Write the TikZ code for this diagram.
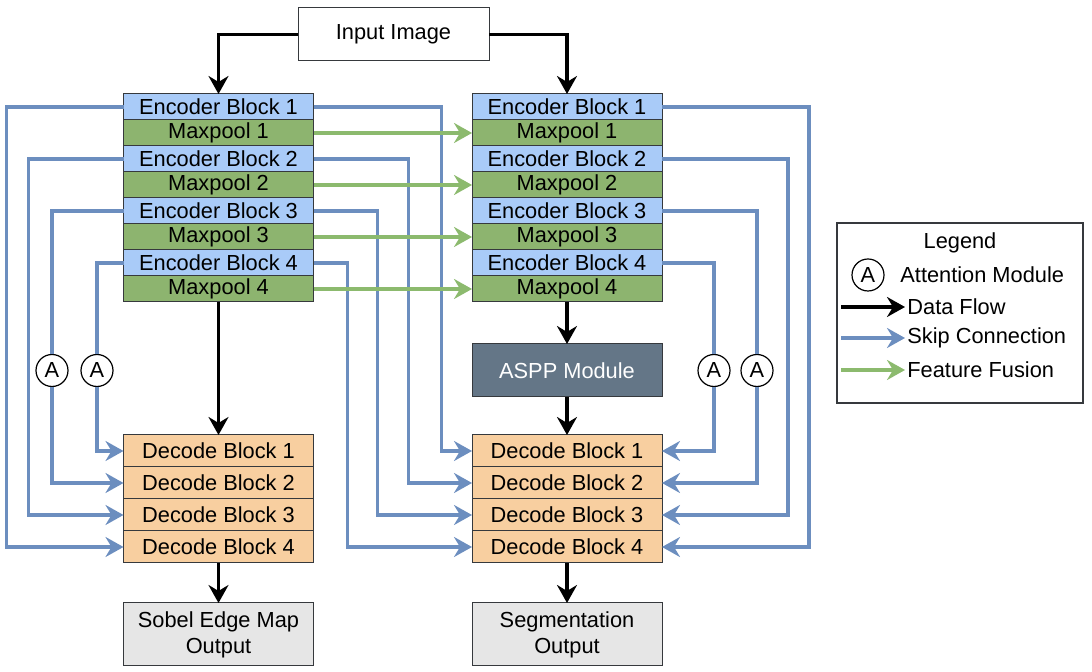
\documentclass[tikz,border=0pt]{standalone}
\usepackage{fontspec}
\setmainfont{Liberation Sans}
\usetikzlibrary{positioning,arrows.meta}
\definecolor{encblue}{HTML}{A9CBF8}
\definecolor{poolgreen}{HTML}{8DB46F}
\definecolor{decorange}{HTML}{F8CFA0}
\definecolor{asppgray}{HTML}{647687}
\definecolor{outgray}{HTML}{E6E6E6}
\definecolor{skipblue}{HTML}{6C8EBF}
\definecolor{fusegreen}{HTML}{8CBA6E}
\definecolor{edgegray}{HTML}{36393D}
\begin{document}
\begin{tikzpicture}[x=0.5pt, y=-0.5pt, font=\fontsize{10.9}{13}\selectfont,
  box/.style = {draw=edgegray, line width=0.5pt, minimum width=95pt, inner sep=0pt, outer sep=0pt, align=center},
  enc/.style = {box, fill=encblue, minimum height=13pt},
  pool/.style = {box, fill=poolgreen, minimum height=13pt},
  dec/.style = {box, fill=decorange, minimum height=16pt},
  outbox/.style = {box, fill=outgray, minimum height=31.5pt},
  att/.style = {draw, circle, fill=white, minimum size=16pt, inner sep=0pt, line width=0.6pt},
  tip/.style = {-{Stealth[length=9pt, width=10pt, inset=3pt]}},
  flow/.style = {tip, line width=1.6pt},
  skipline/.style = {draw=skipblue, line width=1.7pt},
  skip/.style = {skipline, tip},
  fuse/.style = {tip, draw=fusegreen, line width=1.6pt}]
\useasboundingbox (0,0) rectangle (1092,672);

\node[box, fill=white, minimum width=95.5pt, minimum height=26.5pt] (inp) at (393.5,34.5) {Input Image};

\node[enc] (eL1) at (218.5,107) {Encoder Block 1};
\node[pool] (mL1) [below=0pt of eL1] {Maxpool 1};
\node[enc] (eL2) [below=0pt of mL1] {Encoder Block 2};
\node[pool] (mL2) [below=0pt of eL2] {Maxpool 2};
\node[enc] (eL3) [below=0pt of mL2] {Encoder Block 3};
\node[pool] (mL3) [below=0pt of eL3] {Maxpool 3};
\node[enc] (eL4) [below=0pt of mL3] {Encoder Block 4};
\node[pool] (mL4) [below=0pt of eL4] {Maxpool 4};

\node[enc] (eR1) at (567,107) {Encoder Block 1};
\node[pool] (mR1) [below=0pt of eR1] {Maxpool 1};
\node[enc] (eR2) [below=0pt of mR1] {Encoder Block 2};
\node[pool] (mR2) [below=0pt of eR2] {Maxpool 2};
\node[enc] (eR3) [below=0pt of mR2] {Encoder Block 3};
\node[pool] (mR3) [below=0pt of eR3] {Maxpool 3};
\node[enc] (eR4) [below=0pt of mR3] {Encoder Block 4};
\node[pool] (mR4) [below=0pt of eR4] {Maxpool 4};

\node[dec] (dL1) [below=66.5pt of mL4] {Decode Block 1};
\node[dec] (dL2) [below=0pt of dL1] {Decode Block 2};
\node[dec] (dL3) [below=0pt of dL2] {Decode Block 3};
\node[dec] (dL4) [below=0pt of dL3] {Decode Block 4};
\node[outbox] (sob) [below=20pt of dL4] {Sobel Edge Map\\Output};

\node[box, fill=asppgray, text=white, minimum height=26.5pt] (aspp) [below=21pt of mR4] {ASPP Module};
\node[dec] (dR1) [below=19pt of aspp] {Decode Block 1};
\node[dec] (dR2) [below=0pt of dR1] {Decode Block 2};
\node[dec] (dR3) [below=0pt of dR2] {Decode Block 3};
\node[dec] (dR4) [below=0pt of dR3] {Decode Block 4};
\node[outbox] (seg) [below=20pt of dR4] {Segmentation\\Output};

\node[att] (aL1) at (52,370.5) {A};
\node[att] (aL2) at (97,370.5) {A};
\node[att] (aR1) at (714,370.5) {A};
\node[att] (aR2) at (757,370.5) {A};

\draw[skip] (eL1.west) -- ++(-117,0) |- (dL4.west);
\draw[skip] (eL2.west) -- ++(-95,0) |- (dL3.west);
\draw[skipline] (eL3.west) -| (aL1.north);
\draw[skip] (aL1.south) |- (dL2.west);
\draw[skipline] (eL4.west) -| (aL2.north);
\draw[skip] (aL2.south) |- (dL1.west);

\draw[skip] (eL1.east) -- ++(128,0) |- (dR1.west);
\draw[skip] (eL2.east) -- ++(95,0) |- (dR2.west);
\draw[skip] (eL3.east) -- ++(64,0) |- (dR3.west);
\draw[skip] (eL4.east) -- ++(34,0) |- (dR4.west);

\draw[skip] (eR1.east) -- ++(147,0) |- (dR4.east);
\draw[skip] (eR2.east) -- ++(126,0) |- (dR3.east);
\draw[skipline] (eR3.east) -| (aR2.north);
\draw[skip] (aR2.south) |- (dR2.east);
\draw[skipline] (eR4.east) -| (aR1.north);
\draw[skip] (aR1.south) |- (dR1.east);

\draw[fuse] (mL1.east) -- (mR1.west);
\draw[fuse] (mL2.east) -- (mR2.west);
\draw[fuse] (mL3.east) -- (mR3.west);
\draw[fuse] (mL4.east) -- (mR4.west);

\draw[flow] (inp.west) -| (eL1.north);
\draw[flow] (inp.east) -| (eR1.north);
\draw[flow] (mL4.south) -- (dL1.north);
\draw[flow] (dL4.south) -- (sob.north);
\draw[flow] (mR4.south) -- (aspp.north);
\draw[flow] (aspp.south) -- (dR1.north);
\draw[flow] (dR4.south) -- (seg.north);

\node[draw=edgegray, line width=0.6pt, minimum width=123pt, minimum height=90pt] (leg) at (960,313) {};
\node (legt) at (960,243) {Legend};
\node[att] (lA) at (868,275) {A};
\node[anchor=west, inner sep=0pt] (lAt) at (900,275) {Attention Module};
\node[anchor=west, inner sep=1pt] (ldf) at (905,307) {Data Flow};
\node[anchor=west, inner sep=1pt] (lsc) at (905,338) {Skip Connection};
\node[anchor=west, inner sep=1pt] (lff) at (905,370) {Feature Fusion};
\draw[flow] ([xshift=-32pt]ldf.west) -- (ldf.west);
\draw[skip] ([xshift=-32pt]lsc.west) -- (lsc.west);
\draw[fuse] ([xshift=-32pt]lff.west) -- (lff.west);
\end{tikzpicture}
\end{document}
